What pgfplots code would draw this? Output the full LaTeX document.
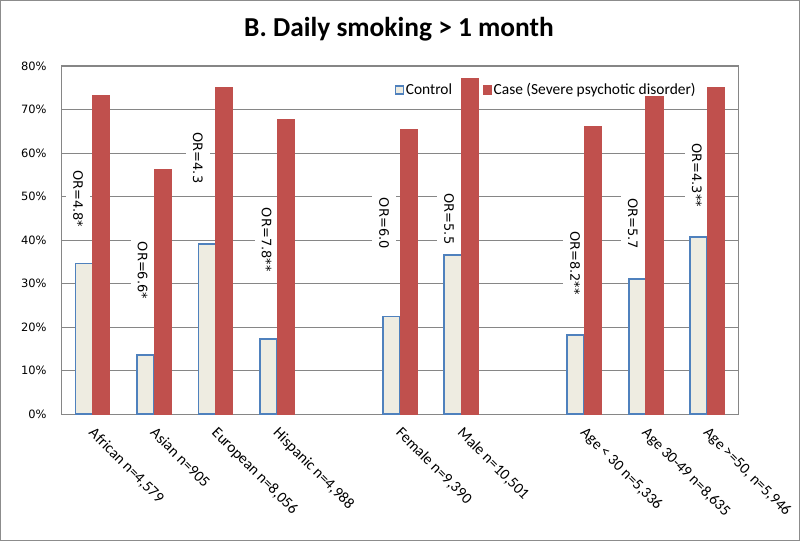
\documentclass[border=0pt]{standalone}
\usepackage{pgfplots}
\pgfplotsset{compat=1.18}
\usepackage{fontspec}
\setmainfont{Carlito}
\newfontfamily\verd{DejaVu Sans}
\definecolor{ctrlfill}{HTML}{EEECE1}
\definecolor{ctrlline}{HTML}{4F81BD}
\definecolor{casefill}{HTML}{C0504D}
\definecolor{gridc}{HTML}{868686}
\definecolor{framec}{HTML}{8C8C8C}

\pgfplotstableread{
x ctrl case
0  34.6 73.2
1  13.6 56.3
2  39.0 75.1
3  17.2 67.6
5  22.4 65.4
6  36.6 77.2
8  18.1 66.2
9  31.0 72.9
10 40.6 75.1
}\smoking

\begin{document}
\begin{tikzpicture}
\useasboundingbox (-62bp,-127bp) rectangle (738bp,414bp);
\fill[white] (-62bp,-127bp) rectangle (738bp,414bp);
\draw[framec, line width=1.5bp] (-61.25bp,-126.25bp) rectangle (737.25bp,413.25bp);
\begin{axis}[
  at={(0,0)}, anchor=south west,
  scale only axis, width=676bp, height=348bp,
  xmin=-0.5, xmax=10.5, ymin=0, ymax=80,
  ybar, bar width=0.28,
  xtick={0,1,2,3,5,6,8,9,10},
  xticklabels={{African n=4,579},{Asian n=905},{European n=8,056},{Hispanic n=4,988},{Female n=9,390},{Male n=10,501},{Age < 30 n=5,336},{Age 30-49 n=8,635},{Age >=50, n=5,946}},
  ytick={0,10,...,80},
  yticklabel={\pgfmathprintnumber{\tick}\%},
  ymajorgrids, grid style={gridc, line width=0.9bp},
  axis line style={gridc, line width=1bp},
  major tick length=0pt,
  yticklabel style={font=\verd\fontsize{11.5}{13}\selectfont, /pgf/number format/assume math mode=true, xshift=-12bp},
  xticklabel style={xshift=3bp, yshift=-12bp, rotate=-45, anchor=north west, inner sep=0pt, font=\fontsize{15.5}{17}\selectfont},
  legend style={draw=none, fill=none, at={(axis description cs:0.492,0.931)}, anchor=west, font=\fontsize{15.5}{17}\selectfont, inner sep=0pt, nodes={inner sep=1.5bp}},
  legend columns=2,
  legend image code/.code={\draw[#1, line width=1.5bp] (0bp,-4bp) rectangle (8bp,4bp);},
  /tikz/every even column/.append style={column sep=29bp},
]
\begin{scope}[every node/.style={rotate=-90, anchor=west, fill=white, inner xsep=3bp, inner ysep=7bp, font=\verd\fontsize{13}{15}\selectfont, text=black}]
\node at (axis cs:-0.24,56.8) {OR=4.8*};
\node at (axis cs:0.81,40.3) {OR=6.6*};
\node at (axis cs:1.71,65.4) {OR=4.3};
\node at (axis cs:2.83,48.1) {OR=7.8**};
\node at (axis cs:4.74,50.4) {OR=6.0};
\node at (axis cs:5.80,51.4) {OR=5.5};
\node at (axis cs:7.85,42.8) {OR=8.2**};
\node at (axis cs:8.79,50.3) {OR=5.7};
\node at (axis cs:9.83,62.9) {OR=4.3**};
\end{scope}
\addplot[bar shift=-0.14, draw=ctrlline, fill=ctrlfill, line width=1.8bp] table[x=x, y=ctrl] {\smoking};
\addplot[bar shift=0.14, draw=casefill, line width=0pt, fill=casefill] table[x=x, y=case] {\smoking};
\legend{Control, Case (Severe psychotic disorder)}
\end{axis}
\node[anchor=base, font=\bfseries\fontsize{27.5}{32}\selectfont] at (337bp,377bp) {B. Daily smoking > 1 month};
\end{tikzpicture}
\end{document}
